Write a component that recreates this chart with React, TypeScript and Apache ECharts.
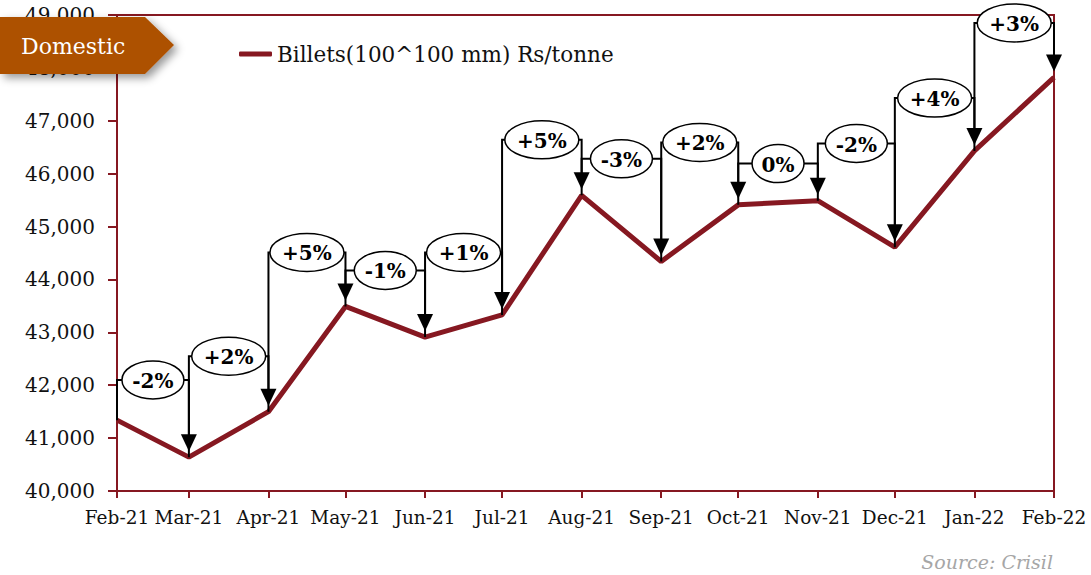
import React, { useEffect, useRef } from 'react';
import * as echarts from 'echarts';

// ---- data ----
const months = ['2021-02', '2021-03', '2021-04', '2021-05', '2021-06', '2021-07', '2021-08', '2021-09', '2021-10', '2021-11', '2021-12', '2022-01', '2022-02'];
const prices = [41340, 40640, 41500, 43490, 42910, 43330, 45590, 44340, 45410, 45490, 44610, 46430, 47820];
const changeLabels = ['-2%', '+2%', '+5%', '-1%', '+1%', '+5%', '-3%', '+2%', '0%', '-2%', '+4%', '+3%'];
const labelLevels = [42100, 42550, 44510, 44170, 44510, 46640, 46280, 46590, 46190, 46570, 47430, 48850];
const yMin = 40000;
const yMax = 49000;
const yStep = 1000;
const seriesName = 'Billets(100^100 mm) Rs/tonne';
const monthNames = ['Jan', 'Feb', 'Mar', 'Apr', 'May', 'Jun', 'Jul', 'Aug', 'Sep', 'Oct', 'Nov', 'Dec'];

const RED = '#861821';
const FONT = 'DejaVu Serif';
const DAY = 86400000;

const times = months.map((m) => {
  const [y, mo] = m.split('-').map(Number);
  return new Date(y, mo - 1, 1).getTime();
});

export default function App() {
  const ref = useRef<HTMLDivElement>(null);

  useEffect(() => {
    if (!ref.current) return;
    const chart = echarts.init(ref.current, undefined, { renderer: 'svg' });

    const bracketData = changeLabels.map((_, i) => [times[i], prices[i], times[i + 1], prices[i + 1], labelLevels[i]]);

    const option: any = {
      animation: false,
      backgroundColor: '#ffffff',
      textStyle: { fontFamily: FONT },
      grid: {
        left: 117,
        right: 37,
        top: 15,
        bottom: 84,
        show: true,
        borderColor: RED,
        borderWidth: 2,
        backgroundColor: 'transparent',
        containLabel: false,
        outerBoundsMode: 'none',
      },
      legend: {
        data: [seriesName],
        left: 234,
        top: 38,
        icon: 'roundRect',
        itemWidth: 33,
        itemHeight: 5,
        itemGap: 10,
        textStyle: { fontFamily: FONT, fontSize: 21.5, color: '#111' },
      },
      xAxis: {
        type: 'time',
        min: times[0],
        max: times[times.length - 1],
        splitNumber: 12,
        minInterval: 28 * DAY,
        maxInterval: 31 * DAY,
        axisLine: { show: true, lineStyle: { color: RED, width: 2 } },
        axisTick: { show: true, length: 7, lineStyle: { color: RED, width: 2 } },
        splitLine: { show: false },
        axisLabel: {
          color: '#111',
          fontFamily: FONT,
          fontSize: 18.5,
          margin: 17,
          showMinLabel: true,
          showMaxLabel: true,
          hideOverlap: false,
          formatter: (v: number) => {
            const d = new Date(v);
            return monthNames[d.getMonth()] + '-' + String(d.getFullYear()).slice(2);
          },
        },
      },
      yAxis: {
        type: 'value',
        min: yMin,
        max: yMax,
        interval: yStep,
        axisLine: { show: true, lineStyle: { color: RED, width: 2 } },
        axisTick: { show: true, length: 9, lineStyle: { color: RED, width: 2 } },
        splitLine: { show: false },
        axisLabel: {
          color: '#111',
          fontFamily: FONT,
          fontSize: 20,
          margin: 22,
          formatter: (v: number) => v.toLocaleString('en-US'),
        },
      },
      series: [
        {
          name: seriesName,
          type: 'line',
          data: times.map((t, i) => [t, prices[i]]),
          symbol: 'none',
          showSymbol: false,
          itemStyle: { color: RED },
          lineStyle: { color: RED, width: 5 },
          z: 2,
        },
        {
          name: 'change',
          type: 'custom',
          data: bracketData,
          encode: { x: [0, 2], y: [1, 3, 4] },
          clip: false,
          z: 5,
          renderItem: (params: any, api: any) => {
            const idx = params.dataIndex;
            const a = api.coord([api.value(0), api.value(1)]);
            const b = api.coord([api.value(2), api.value(3)]);
            const l = api.coord([api.value(0), api.value(4)]);
            const ly = l[1];
            const tipY = b[1] - 6;
            const headH = 17;
            const headW = 8;
            const label = changeLabels[idx];
            const rx = label.startsWith('+') ? 37 : label === '0%' ? 26 : 31;
            const cx = (a[0] + b[0]) / 2;
            return {
              type: 'group',
              children: [
                {
                  type: 'polyline',
                  shape: { points: [[a[0], a[1]], [a[0], ly], [b[0], ly], [b[0], tipY - headH + 1]] },
                  style: { stroke: '#000', lineWidth: 2, fill: null },
                },
                {
                  type: 'polygon',
                  shape: { points: [[b[0] - headW, tipY - headH], [b[0] + headW, tipY - headH], [b[0], tipY]] },
                  style: { fill: '#000' },
                },
                {
                  type: 'ellipse',
                  shape: { cx, cy: ly, rx, ry: 19 },
                  style: { fill: '#fff', stroke: '#000', lineWidth: 1.5 },
                },
                {
                  type: 'text',
                  style: {
                    text: label,
                    x: cx,
                    y: ly + 1,
                    align: 'center',
                    verticalAlign: 'middle',
                    fontFamily: FONT,
                    fontWeight: 'bold',
                    fontSize: 20,
                    fill: '#000',
                  },
                },
              ],
            };
          },
        },
      ],
      graphic: [
        {
          type: 'polygon',
          z: 100,
          shape: { points: [[0, 17], [145, 17], [174, 45], [145, 74], [0, 74]] },
          style: {
            fill: '#ad5100',
            shadowBlur: 8,
            shadowOffsetX: 4,
            shadowOffsetY: 4,
            shadowColor: 'rgba(0,0,0,0.4)',
          },
        },
        {
          type: 'text',
          z: 101,
          x: 21,
          y: 46,
          style: {
            text: 'Domestic',
            fill: '#ffffff',
            fontFamily: FONT,
            fontSize: 22,
            verticalAlign: 'middle',
          },
        },
        {
          type: 'text',
          z: 101,
          x: 1053,
          y: 562,
          style: {
            text: 'Source: Crisil',
            fill: '#a6a6a6',
            fontFamily: FONT,
            fontStyle: 'italic',
            fontSize: 19,
            align: 'right',
            verticalAlign: 'middle',
          },
        },
      ],
    };

    chart.setOption(option);
    return () => chart.dispose();
  }, []);

  return <div ref={ref} style={{ position: 'fixed', left: 0, top: 0, width: 1091, height: 575, background: '#fff' }} />;
}
